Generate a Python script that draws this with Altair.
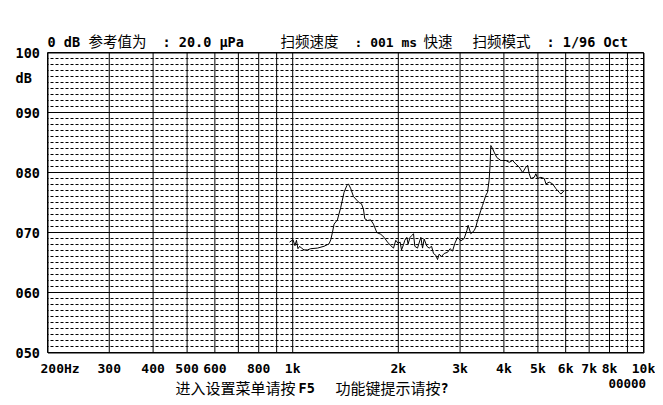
import altair as alt
import pandas as pd

# ---- data ----
freq = [980, 1002, 1015, 1025, 1035, 1047, 1059, 1077, 1101, 1126, 1176, 1228, 1269, 1284,
        1298, 1312, 1341, 1371, 1401, 1426, 1442, 1464, 1490, 1522, 1546, 1570, 1591, 1605,
        1634, 1669, 1699, 1737, 1783, 1822, 1863, 1904, 1938, 1967, 1997, 2024, 2043, 2070,
        2087, 2115, 2133, 2161, 2185, 2210, 2229, 2269, 2319, 2345, 2370, 2413, 2449, 2488,
        2520, 2559, 2587, 2615, 2656, 2702, 2763, 2810, 2855, 2899, 2951, 3015, 3081, 3136,
        3163, 3219, 3290, 3327, 3364, 3400, 3438, 3476, 3513, 3552, 3592, 3630, 3654, 3671,
        3712, 3751, 3818, 3920, 4053, 4142, 4236, 4328, 4423, 4523, 4622, 4674, 4723, 4776,
        4881, 4935, 4991, 5100, 5212, 5271, 5386, 5508, 5629, 5752, 5816, 5943]
level = [68.4, 68.8, 67.8, 68.7, 67.3, 67.7, 67.4, 67.1, 67.1, 67.3, 67.4, 67.7, 68.1, 68.8,
         70.0, 71.4, 72.1, 74.2, 76.7, 77.8, 78.1, 77.3, 76.0, 75.4, 75.0, 74.8, 73.9, 72.3,
         72.0, 72.1, 71.4, 70.0, 69.7, 69.2, 68.4, 67.8, 67.4, 68.7, 68.2, 68.4, 67.1, 68.0,
         68.7, 69.2, 68.1, 69.2, 69.5, 69.8, 67.7, 67.4, 69.2, 67.4, 68.9, 67.7, 67.4, 67.7,
         66.5, 66.2, 65.5, 66.4, 66.0, 66.5, 66.7, 67.3, 66.9, 68.2, 69.2, 68.6, 69.0, 70.3,
         71.2, 69.8, 70.3, 70.9, 72.0, 72.8, 73.7, 74.5, 75.3, 76.2, 76.7, 78.7, 81.4, 84.5,
         84.0, 83.4, 82.5, 82.0, 82.0, 81.7, 82.0, 81.4, 80.9, 80.0, 80.9, 81.2, 79.8, 79.0,
         79.2, 79.8, 79.0, 79.2, 79.0, 78.1, 78.4, 78.1, 77.3, 76.7, 76.4, 77.0]

x_grid = [200, 300, 400, 500, 600, 700, 800, 900, 1000, 2000, 3000, 4000, 5000, 6000,
          7000, 8000, 9000, 10000]
y_major = [50, 60, 70, 80, 90, 100]
y_minor = [v for v in range(51, 100) if v % 10 != 0]

x_label_text = ["300", "400", "500", "600", "800", "1k", "2k", "3k", "4k", "5k", "6k",
                "7k", "8k", "10k"]
x_label_freq = [300, 400, 500, 600, 800, 1000, 2000, 3000, 4000, 5000, 6000, 7000, 8000,
                10000]
first_label = ["200Hz"]
first_label_freq = [200]
y_label_text = ["100", "dB", "090", "080", "070", "060", "050"]
y_label_pos = [100, 95.7, 90, 80, 70, 60, 50]

W, H = 596, 300
MONO = "DejaVu Sans Mono"
CJK = "Noto Sans CJK SC"

xs = alt.Scale(type="log", domain=[200, 10000], nice=False)
ys = alt.Scale(domain=[50, 100], nice=False, zero=False)

curve = pd.DataFrame({"f": freq, "db": level})

vgrid = alt.Chart(pd.DataFrame({"f": x_grid})).mark_rule(
    color="black", strokeWidth=1).encode(x=alt.X("f:Q", scale=xs, axis=None))
hmajor = alt.Chart(pd.DataFrame({"db": y_major})).mark_rule(
    color="black", strokeWidth=1).encode(y=alt.Y("db:Q", scale=ys, axis=None))
hminor = alt.Chart(pd.DataFrame({"db": y_minor})).mark_rule(
    color="black", strokeWidth=1, strokeDash=[3, 2]).encode(
    y=alt.Y("db:Q", scale=ys, axis=None))

line = alt.Chart(curve).mark_line(color="black", strokeWidth=1).encode(
    x=alt.X("f:Q", scale=xs, axis=None),
    y=alt.Y("db:Q", scale=ys, axis=None))

ylab = alt.Chart(pd.DataFrame({"t": y_label_text, "db": y_label_pos})).mark_text(
    font=MONO, fontWeight="bold", fontSize=13.5, align="left", baseline="middle",
    dy=1, color="black").encode(
    y=alt.Y("db:Q", scale=ys, axis=None), x=alt.value(-32), text="t:N")

xlab = alt.Chart(pd.DataFrame({"t": x_label_text, "f": x_label_freq})).mark_text(
    font=MONO, fontWeight="bold", fontSize=13, align="center", baseline="middle",
    color="black").encode(
    x=alt.X("f:Q", scale=xs, axis=None), y=alt.value(H + 16), text="t:N")
xlab0 = alt.Chart(pd.DataFrame({"t": first_label, "f": first_label_freq})).mark_text(
    font=MONO, fontWeight="bold", fontSize=13, align="left", baseline="middle",
    dx=-7, color="black").encode(
    x=alt.X("f:Q", scale=xs, axis=None), y=alt.value(H + 16), text="t:N")


def note(text, x, y, cjk=False, size=None):
    if cjk:
        mk = dict(font=CJK, fontWeight="normal", fontSize=size or 14.5)
    else:
        mk = dict(font=MONO, fontWeight="bold", fontSize=size or 13.5)
    return alt.Chart(pd.DataFrame({"t": [text]})).mark_text(
        align="left", baseline="middle", color="black", **mk).encode(
        x=alt.value(x), y=alt.value(y), text="t:N")


top_y = -10
bot_y = H + 36
notes = [
    note("0 dB", 0, top_y),
    note("参考值为", 41, top_y, cjk=True),
    note(": 20.0 μPa", 115, top_y),
    note("扫频速度", 233, top_y, cjk=True),
    note(": 001 ms", 307, top_y, size=13),
    note("快速", 376, top_y, cjk=True),
    note("扫频模式", 425, top_y, cjk=True),
    note(": 1/96  Oct", 499, top_y),
    note("进入设置菜单请按", 128, bot_y, cjk=True, size=15),
    note("F5", 251, bot_y),
    note("功能键提示请按", 288, bot_y, cjk=True, size=15),
    note("?", 393, bot_y),
    note("00000", 561, H + 31, size=12.5),
]

chart = alt.layer(hminor, hmajor, vgrid, line, ylab, xlab, xlab0, *notes).properties(
    width=W, height=H,
    autosize="none",
    padding={"left": 39.5, "top": 44.5, "right": 11.5, "bottom": 44.5},
    background="white",
).configure_view(stroke="black", strokeWidth=1)

chart.save("out.html", embed_options={"renderer": "svg", "actions": False})
